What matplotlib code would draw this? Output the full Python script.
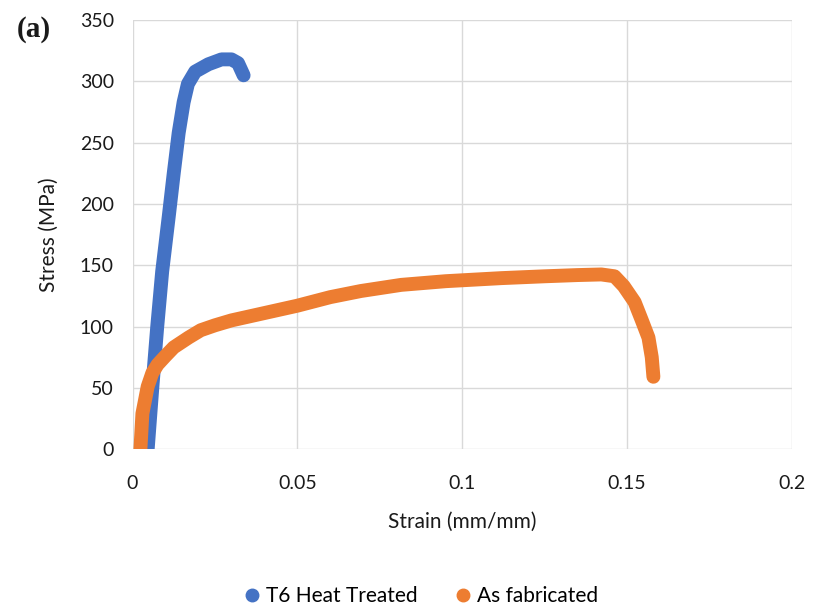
import matplotlib
matplotlib.use("Agg")
import matplotlib.pyplot as plt
from matplotlib.lines import Line2D

# Data
t6_strain = [0.0046, 0.0060, 0.0075, 0.0090, 0.0110, 0.0125, 0.0140, 0.0155, 0.0168,
             0.0190, 0.0230, 0.0270, 0.0300, 0.0320, 0.0337]
t6_stress = [0, 50, 100, 145, 190, 225, 258, 283, 298, 308, 314, 318, 318, 315, 305]

asfab_strain = [0.0024, 0.0030, 0.0046, 0.0060, 0.0076, 0.0100, 0.0125, 0.0170, 0.0207,
                0.0250, 0.0300, 0.0350, 0.0400, 0.0500, 0.0600, 0.0693, 0.0815, 0.0950,
                0.1119, 0.1250, 0.1350, 0.1422, 0.1462, 0.1490, 0.1523, 0.1545, 0.1565,
                0.1575, 0.1580]
asfab_stress = [0, 29, 51, 62, 69, 76, 83, 91, 97, 101, 105, 108, 111, 117, 124, 129, 134,
                137, 139.5, 141, 142, 142.5, 141, 133, 120, 105, 91, 75, 59]

series_names = ["T6 Heat Treated", "As fabricated"]
x_ticks = [0, 0.05, 0.1, 0.15, 0.2]
x_tick_labels = ["0", "0.05", "0.1", "0.15", "0.2"]
y_ticks = [0, 50, 100, 150, 200, 250, 300, 350]

blue = "#4472C4"
orange = "#ED7D31"
font = "Lato"
txt = "#1a1a1a"

fig = plt.figure(figsize=(8.13, 6.11), dpi=100)
ax = fig.add_axes([0.163, 0.265, 0.811, 0.702])

ax.plot(asfab_strain, asfab_stress, color=orange, lw=10, solid_capstyle="round",
        solid_joinstyle="round", zorder=3)
ax.plot(t6_strain, t6_stress, color=blue, lw=10, solid_capstyle="round",
        solid_joinstyle="round", zorder=2)

ax.set_xlim(0, 0.2)
ax.set_ylim(0, 350)
ax.set_xticks(x_ticks)
ax.set_xticklabels(x_tick_labels)
ax.set_yticks(y_ticks)
ax.grid(True, color="#d9d9d9", lw=1)
ax.set_axisbelow(True)
for s in ax.spines.values():
    s.set_visible(False)
ax.tick_params(axis="x", length=0, labelsize=14, pad=19)
ax.tick_params(axis="y", length=0, labelsize=14, pad=13.5)
for lab in ax.get_xticklabels() + ax.get_yticklabels():
    lab.set_fontfamily(font)
    lab.set_color(txt)

ax.set_xlabel("Strain (mm/mm)", fontsize=15, family=font, color=txt, labelpad=14)
ax.set_ylabel("Stress (MPa)", fontsize=15, family=font, color=txt, labelpad=15)

fig.text(0.042, 0.952, "(a)", fontsize=21, fontweight="bold", family="Liberation Serif",
         ha="center", va="center", color=txt)

handles = [Line2D([], [], marker="o", ls="none", color=blue, markersize=9),
           Line2D([], [], marker="o", ls="none", color=orange, markersize=9)]
fig.legend(handles, series_names, loc="center", bbox_to_anchor=(0.515, 0.024), ncol=2,
           frameon=False, prop={"family": font, "size": 15}, handletextpad=0.05,
           columnspacing=1.6, handlelength=1.2)

fig.savefig("out.png", dpi=100)
